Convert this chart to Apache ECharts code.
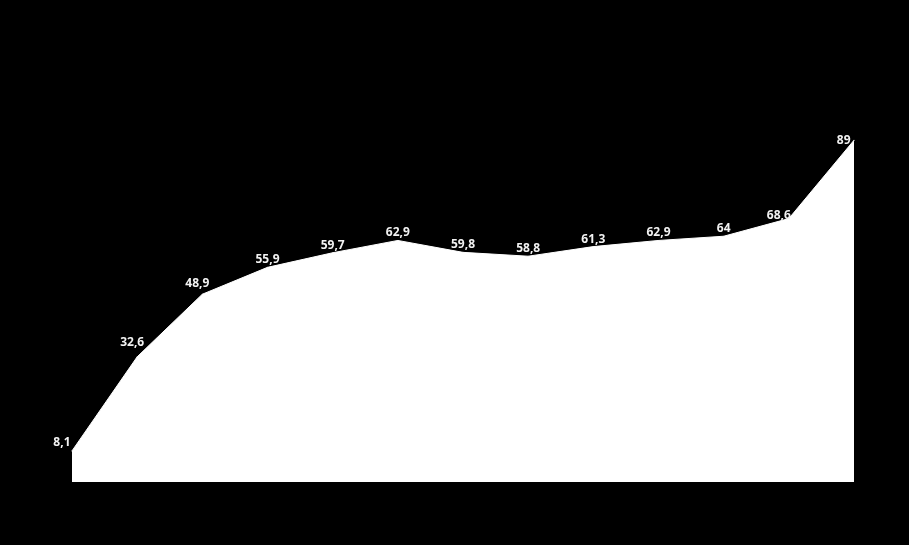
<!DOCTYPE html>
<html><head><meta charset="utf-8">
<script src="https://cdn.jsdelivr.net/npm/echarts@6/dist/echarts.min.js"></script>
<style>html,body{margin:0;padding:0;background:#000;}#c{width:909px;height:545px;}</style>
</head><body><div id="c"></div>
<script>
const categories = ['1','2','3','4','5','6','7','8','9','10','11','12','13'];
const values = [8.1, 32.6, 48.9, 55.9, 59.7, 62.9, 59.8, 58.8, 61.3, 62.9, 64, 68.6, 89];

// label placement tweaks (style only)
const labelTweaks = {
  0: { position: 'left', offset: [0, -8] },
  1: { offset: [-5, -7] },
  2: { offset: [-5, -3] },
  11: { offset: [-10, 5] },
  12: { position: 'left', offset: [-2, 0] }
};

const chart = echarts.init(document.getElementById('c'));
const data = values.map((v, i) => {
  const item = { value: v };
  if (labelTweaks[i]) item.label = labelTweaks[i];
  return item;
});
chart.setOption({
  backgroundColor: '#000',
  animation: false,
  grid: { left: 72, right: 55, top: 98, bottom: 63 },
  xAxis: { type: 'category', data: categories, boundaryGap: false, show: false },
  yAxis: { type: 'value', min: 0, max: 100, show: false },
  series: [{
    type: 'line',
    data: data,
    symbol: 'circle',
    symbolSize: 1,
    showSymbol: true,
    showAllSymbol: true,
    itemStyle: { color: '#ffffff', borderWidth: 0 },
    lineStyle: { color: '#fff', width: 1 },
    areaStyle: { color: '#fff', opacity: 1 },
    label: {
      show: true, position: 'top', distance: 1,
      color: '#f2f2f2', fontWeight: 'bold', fontSize: 12,
      fontFamily: 'Open Sans',
      formatter: p => String(p.value).replace('.', ',')
    },
    z: 2
  }]
});
</script></body></html>
